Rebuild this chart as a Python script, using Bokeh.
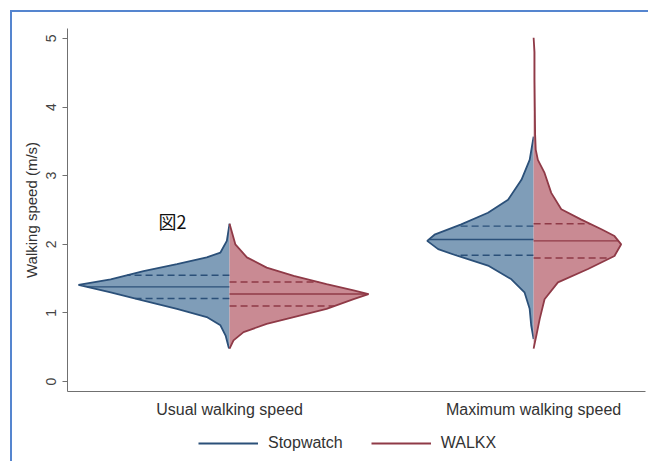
import numpy as np
from bokeh.plotting import figure
from bokeh.layouts import column
from bokeh.models import Range1d, FixedTicker, Legend, LegendItem, Label
from bokeh.embed import file_html
from bokeh.resources import INLINE

categories = ["Usual walking speed", "Maximum walking speed"]
methods = ["Stopwatch", "WALKX"]

# Violin outlines: speed (m/s), top to bottom, and half-width of the density (x units)
usual_sw_speed = [2.30, 2.05, 1.88, 1.81, 1.71, 1.61, 1.49, 1.41, 1.30, 1.18, 1.06, 0.94, 0.82, 0.67, 0.50, 0.48]
usual_sw_width = [0.0, 0.009, 0.030, 0.075, 0.173, 0.283, 0.391, 0.497, 0.391, 0.283, 0.173, 0.075, 0.030, 0.013, 0.003, 0.0]

usual_wx_speed = [2.30, 2.00, 1.81, 1.66, 1.54, 1.42, 1.33, 1.275, 1.20, 1.06, 0.94, 0.84, 0.72, 0.60, 0.48]
usual_wx_width = [0.0, 0.019, 0.057, 0.122, 0.211, 0.319, 0.408, 0.457, 0.408, 0.319, 0.211, 0.122, 0.046, 0.013, 0.0]

max_sw_speed = [3.57, 3.23, 2.94, 2.65, 2.46, 2.29, 2.14, 2.05, 1.93, 1.83, 1.69, 1.49, 1.30, 1.06, 0.82, 0.62]
max_sw_width = [0.0, 0.013, 0.040, 0.084, 0.150, 0.238, 0.326, 0.350, 0.314, 0.249, 0.150, 0.073, 0.030, 0.013, 0.008, 0.0]

max_wx_speed = [5.01, 4.80, 4.40, 4.00, 3.60, 3.38, 3.23, 3.04, 2.75, 2.51, 2.36, 2.22, 2.12, 2.00, 1.83, 1.64, 1.445, 1.20, 0.91, 0.67, 0.48]
max_wx_width = [0.0, 0.003, 0.003, 0.004, 0.005, 0.007, 0.014, 0.036, 0.058, 0.091, 0.157, 0.223, 0.266, 0.288, 0.266, 0.179, 0.080, 0.036, 0.020, 0.009, 0.0]

# Quartiles: (Q1, median, Q3)
usual_sw_q = [1.21, 1.38, 1.55]
usual_wx_q = [1.10, 1.275, 1.45]
max_sw_q = [1.84, 2.07, 2.265]
max_wx_q = [1.80, 2.05, 2.30]

y_ticks = [0, 1, 2, 3, 4, 5]

BLUE_LINE, BLUE_FILL = "#2b5079", "#7f9db8"
RED_LINE, RED_FILL = "#8f3a47", "#c98a93"
FONT = "Liberation Sans"

p = figure(width=636, height=408, output_backend="svg", toolbar_location=None,
           x_range=Range1d(0.467, 2.368), y_range=Range1d(-0.145, 5.145),
           min_border_left=55, min_border_right=3, min_border_top=16, min_border_bottom=27)
p.grid.visible = False
p.outline_line_color = None
p.background_fill_color = "white"
p.border_fill_color = "white"

violins = [
    (1, -1, usual_sw_speed, usual_sw_width, usual_sw_q, BLUE_LINE, BLUE_FILL),
    (1, 1, usual_wx_speed, usual_wx_width, usual_wx_q, RED_LINE, RED_FILL),
    (2, -1, max_sw_speed, max_sw_width, max_sw_q, BLUE_LINE, BLUE_FILL),
    (2, 1, max_wx_speed, max_wx_width, max_wx_q, RED_LINE, RED_FILL),
]

for center, side, speed, width, quart, lc, fc in violins:
    ys = np.array(speed, dtype=float)
    ws = np.array(width, dtype=float)
    xs = center + side * ws
    p.patch(xs, ys, fill_color=fc, line_color=None)
    p.line(xs, ys, line_color=lc, line_width=1.8)
    order = np.argsort(ys)
    for k, q in enumerate(quart):
        half = np.interp(q, ys[order], ws[order])
        p.segment(x0=[center], y0=[q], x1=[center + side * half], y1=[q],
                  line_color=lc, line_width=1.4,
                  line_dash="solid" if k == 1 else "7 4")

# y axis
yax = p.yaxis[0]
yax.ticker = FixedTicker(ticks=y_ticks)
yax.axis_label = "Walking speed (m/s)"
yax.axis_label_text_font = FONT
yax.axis_label_text_font_size = "15px"
yax.axis_label_text_font_style = "normal"
yax.axis_label_text_color = "#333333"
yax.axis_label_standoff = 4
yax.major_label_orientation = "vertical"
yax.major_label_text_font = FONT
yax.major_label_text_font_size = "14px"
yax.major_label_text_color = "#444444"
yax.major_label_standoff = 6
yax.major_tick_out = 5
yax.major_tick_in = 0
yax.minor_tick_line_color = None
yax.axis_line_color = "#707070"
yax.major_tick_line_color = "#707070"

# x axis with category names
xax = p.xaxis[0]
xax.ticker = FixedTicker(ticks=[1, 2])
xax.major_label_overrides = {1: categories[0], 2: categories[1]}
xax.major_label_text_font = FONT
xax.major_label_text_font_size = "16px"
xax.major_label_text_color = "#333333"
xax.major_label_standoff = 3
xax.major_tick_line_color = None
xax.minor_tick_line_color = None
xax.axis_line_color = "#707070"

p.add_layout(Label(x=0.766, y=2.34, text="図2", text_font="Noto Sans CJK JP",
                   text_font_size="18px", text_color="#111111",
                   text_align="left", text_baseline="middle"))

# legend strip under the chart; its key lines sit outside the strip's visible range
leg = figure(width=636, height=41, output_backend="svg", toolbar_location=None,
             x_range=Range1d(0, 1), y_range=Range1d(0, 1),
             x_axis_location=None, y_axis_location=None,
             min_border_left=0, min_border_right=0, min_border_top=0, min_border_bottom=0)
leg.grid.visible = False
leg.outline_line_color = None
key_sw = leg.line(x=[-5, -4], y=[-5, -5], line_color=BLUE_LINE, line_width=1.8)
key_wx = leg.line(x=[-5, -4], y=[-5, -5], line_color=RED_LINE, line_width=1.8)
legend = Legend(items=[LegendItem(label=methods[0], renderers=[key_sw]),
                       LegendItem(label=methods[1], renderers=[key_wx])],
                orientation="horizontal", location=(131, 8),
                glyph_width=60, glyph_height=20, label_standoff=10, spacing=28,
                padding=0, margin=0, border_line_color=None, background_fill_alpha=0,
                label_text_font=FONT, label_text_font_size="16px", label_text_color="#333333")
leg.add_layout(legend, "center")

page = column(p, leg, spacing=0,
              styles={"margin-left": "10px", "margin-top": "10px",
                      "border-left": "2px solid #5585cf", "border-top": "2px solid #5585cf"})

open("out.html", "w").write(file_html(page, INLINE))
